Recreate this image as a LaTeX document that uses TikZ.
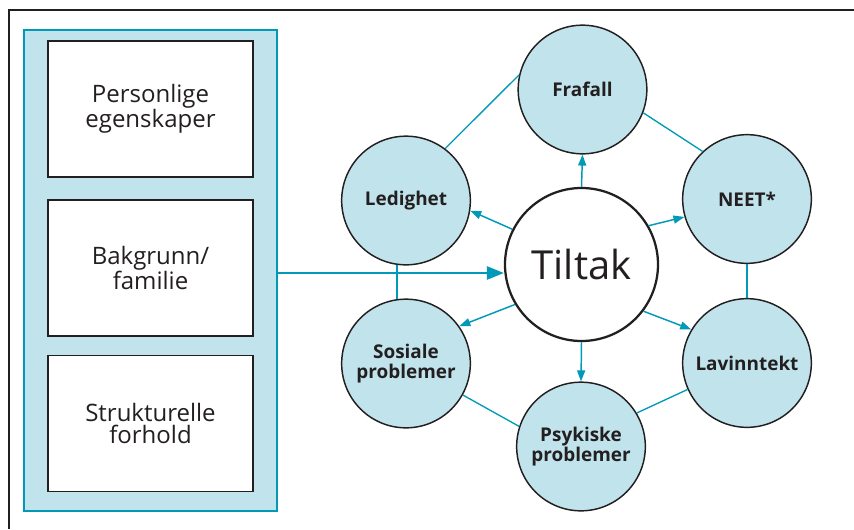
\documentclass[tikz,border=0pt]{standalone}
\usepackage{fontspec}
\setmainfont{Open Sans}
\usetikzlibrary{arrows.meta}
\definecolor{ringblue}{RGB}{0,153,183}
\definecolor{paleblue}{RGB}{193,228,236}
\definecolor{inkgray}{RGB}{35,31,32}

\begin{document}
\begin{tikzpicture}[
    x=0.75pt, y=-0.75pt,
    frame/.style={%
        draw=inkgray, line width=2pt},
    panel/.style={%
        draw=ringblue, line width=1.9pt, fill=paleblue,
        minimum width=189.75pt, minimum height=360.75pt},
    factor/.style={%
        draw=inkgray, line width=1.1pt, fill=white, text=inkgray,
        minimum width=153.75pt, minimum height=102pt,
        align=center, font=\fontsize{18}{17}\selectfont},
    outcome/.style={%
        circle, draw=inkgray, line width=1.1pt, fill=paleblue, text=inkgray,
        minimum size=96.5pt, inner sep=0pt, align=center,
        font=\fontsize{14.2}{15}\selectfont\bfseries},
    hub/.style={%
        circle, draw=inkgray, line width=1.7pt, fill=white, text=inkgray,
        minimum size=114.75pt, inner sep=0pt,
        font=\fontsize{30}{30}\selectfont},
    ring/.style={draw=ringblue, line width=1pt},
    spoke/.style={draw=ringblue, line width=1.1pt,
        -{Triangle[length=8.25pt,width=6pt]}},
    feed/.style={draw=ringblue, line width=2pt,
        -{Triangle[length=12.75pt,width=9.75pt]}},
]
    \useasboundingbox (0,0) rectangle (854,529);
    \draw[frame] (9,529) |- (854,10);

    %Factors
    \node[panel] (panel) at (150.5,270.5) {};
    \node[factor] (personal) at (150.5,109) {Personlige\\egenskaper};
    \node[factor] (family) at (150.5,268) {Bakgrunn/\\familie};
    \node[factor] (structure) at (150.5,423.5) {Strukturelle\\forhold};

    %Measure
    \node[hub] (tiltak) at (581.5,264.5) {Tiltak};

    %Outcomes
    \node[outcome] (frafall) at (582.5,89.5) {Frafall};
    \node[outcome] (neet) at (747,199) {NEET*};
    \node[outcome] (lavinntekt) at (747,363) {Lavinntekt};
    \node[outcome] (psykiske) at (581,446.5) {Psykiske\\problemer};
    \node[outcome] (sosiale) at (406,363.5) {Sosiale\\problemer};
    \node[outcome] (ledighet) at (406,200.5) {Ledighet};

    %Ring
    \draw[ring] (ledighet.53) -- (frafall.167);
    \draw[ring] (frafall.-21) -- (neet.133);
    \draw[ring] (neet.south) -- (lavinntekt.north);
    \draw[ring] (lavinntekt.204) -- (psykiske.31);
    \draw[ring] (psykiske.162) -- (sosiale.-29);
    \draw[ring] (sosiale.98) -- (ledighet.262);

    %Spokes
    \draw[spoke] (tiltak.north) -- (frafall.south);
    \draw[spoke] (tiltak.30) -- (neet.196);
    \draw[spoke] (tiltak.-37) -- (lavinntekt.149);
    \draw[spoke] (tiltak.south) -- (psykiske.north);
    \draw[spoke] (tiltak.211) -- (sosiale.35);
    \draw[spoke] (tiltak.153) -- (ledighet.-9);

    \draw[feed] (panel.east |- 0,273) -- (tiltak.west |- 0,273);
\end{tikzpicture}
\end{document}
